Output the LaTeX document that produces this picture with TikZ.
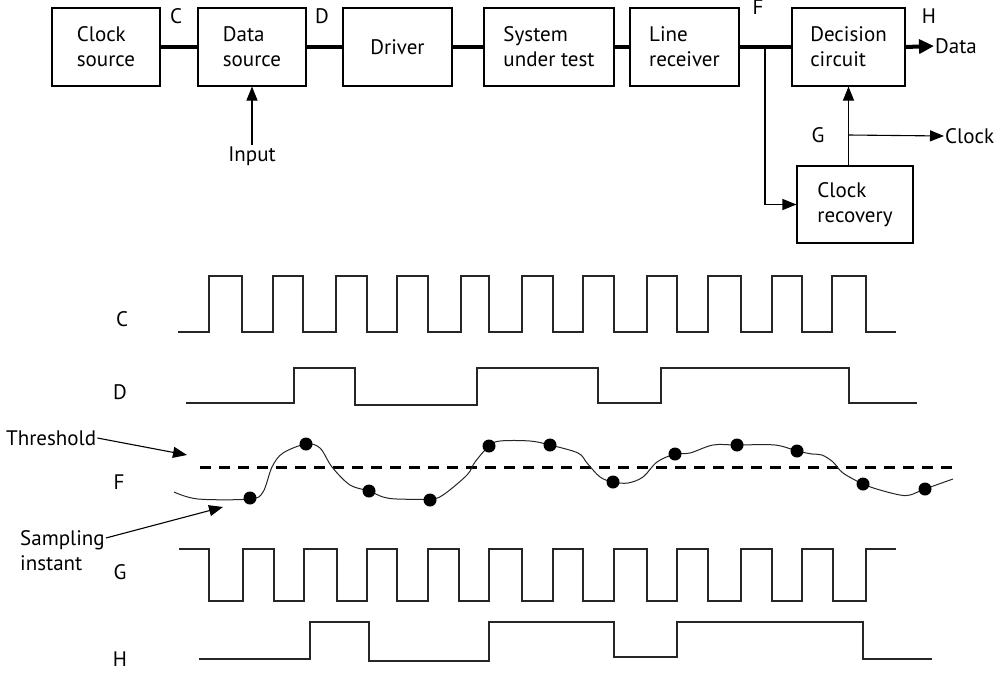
\documentclass[tikz,border=0pt]{standalone}
\usepackage{fontspec}
\setmainfont{PT Sans}
\usepackage{tikz}
\usetikzlibrary{arrows.meta, positioning, calc}
\tikzset{
  box/.style={draw, line width=1.1pt, align=left, minimum height=78pt, inner sep=2pt},
  lbl/.style={inner sep=1pt},
  link/.style={line width=4pt},
  arr/.style={-{Triangle[length=14pt,width=11pt]}, line width=1.1pt},
  bigarr/.style={-{Triangle[length=15pt,width=14pt]}, line width=4pt},
  wave/.style={line width=1.2pt, black!85},
  sample/.style={fill=black, draw=none},
}
\begin{document}
\begin{tikzpicture}[x=1pt, y=-1pt, font=\fontsize{21}{25}\selectfont]
  \useasboundingbox (0,0) rectangle (1006,672);
  % block diagram
  \node[box, minimum width=108pt] (clk) at (106,47) {Clock\\source};
  \node[box, minimum width=108pt] (dat) at (252,47) {Data\\source};
  \node[box, minimum width=109pt] (drv) at (397.5,47) {Driver};
  \node[box, minimum width=130pt] (sut) at (549,47) {System\\under test};
  \node[box, minimum width=109pt] (lrx) at (684.5,47) {Line\\receiver};
  \node[box, minimum width=113pt] (dec) at (848.5,47) {Decision\\circuit};
  \node[box, minimum width=116pt, minimum height=77pt] (rec) at (855,204.5) {Clock\\recovery};
  \draw[link] (clk) -- (dat);
  \draw[link] (dat) -- (drv);
  \draw[link] (drv) -- (sut);
  \draw[link] (sut) -- (lrx);
  \draw[link] (lrx) -- (dec);
  \node[lbl] (pc) at (176,16) {C};
  \node[lbl] (pd) at (322,16) {D};
  \node[lbl] (pf) at (758,7) {F};
  \node[lbl] (ph) at (929,16) {H};
  \node[lbl] (pg) at (818,135) {G};
  \node[lbl] (inp) at (252,156) {Input};
  \draw[arr] (inp.north) -- (dat.south);
  \coordinate (fj) at (765,47);
  \draw[arr] (fj) |- (rec.west);
  \draw[arr] (dec.south |- rec.north) -- (dec.south);
  \coordinate (gj) at (dec.south |- pg);
  \node[lbl, anchor=west] (cko) at (944,136) {Clock};
  \draw[arr] (gj) -- (cko.west);
  \node[lbl, anchor=west] (dout) at (934,46) {Data};
  \draw[bigarr] (dec.east) -- (dout.west);

  % timing diagram
  \node[lbl] (lc) at (122,319) {C};
  \node[lbl] (ld) at (120,392) {D};
  \node[lbl] (lf) at (119,482) {F};
  \node[lbl] (lg) at (120,572) {G};
  \node[lbl] (lh) at (120,659) {H};
  \draw[wave] (178,332) \foreach \r/\f in {209/242,273/303,336/367,397/428,461/489,522/553,583/614,647/677,708/741,772/802,832/866}
    { -- (\r,332) -- (\r,276) -- (\f,276) -- (\f,332) } -- (896,332);
  \draw[wave] (186,403) -- (294,403) -- (294,368) -- (355,368) -- (355,405) -- (477,405) -- (477,368)
    -- (598,368) -- (598,403) -- (661,403) -- (661,368) -- (849,368) -- (849,403) -- (917,403);
  \draw[line width=3pt, dash pattern=on 11pt off 8pt] (200,467) -- (952,467);
  \draw[wave, line width=1pt] plot[smooth, tension=0.55] coordinates {
    (174,492) (198,499) (250,499) (263,492) (272,467) (283,453) (306,444) (320,448) (332,467)
    (350,485) (369,491) (383,497) (397,499) (430,499) (443,495) (467,475) (475,462) (489,446)
    (500,441) (530,441) (550,445) (578,453) (587,463) (600,477) (613,482) (628,483) (643,477)
    (657,462) (675,454) (690,453) (713,445) (737,445) (775,445) (797,451) (812,454) (822,455)
    (833,462) (843,473) (863,484) (880,490) (900,495) (910,495) (925,489) (953,479)};
  \foreach \sx/\sy in {250/498,306/444,369/491,430/500,489/446,550/445,613/482,675/454,737/445,797/451,863/484,925/489}
    \fill[sample] (\sx,\sy) circle (6.5pt);
  \draw[wave] (179,549) \foreach \f/\r in {209/243,274/304,337/367,397/428,459/489,522/553,583/614,647/677,708/741,772/802,833/866}
    { -- (\f,549) -- (\f,601) -- (\r,601) -- (\r,549) } -- (896,549);
  \draw[wave] (199,659) -- (310,659) -- (310,622) -- (369,622) -- (369,661) -- (489,661) -- (489,622)
    -- (614,622) -- (614,657) -- (677,657) -- (677,622) -- (863,622) -- (863,659) -- (932,659);

  \node[lbl, anchor=west] (thr) at (5,438) {Threshold};
  \coordinate (thrtip) at (187,455);
  \draw[arr] (thr.east) -- (thrtip);
  \node[lbl, anchor=west, align=left] (samp) at (19,551) {Sampling\\instant};
  \coordinate (samptip) at (223,507);
  \draw[arr] ([yshift=13pt]samp.east) -- (samptip);
\end{tikzpicture}
\end{document}
